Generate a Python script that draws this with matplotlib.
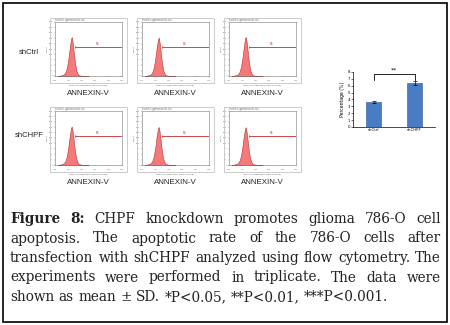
import matplotlib
matplotlib.use("Agg")
import matplotlib.pyplot as plt
from matplotlib.patches import Rectangle

W, H = 450, 325

# ---------------- data ----------------
row_labels = ["shCtrl", "shCHPF"]
hist_xlabel = "ANNEXIN-V"
# log10 fluorescence positions of the histogram outline
log_fl = [0.2, 0.4, 0.6, 0.7, 0.8, 0.9, 1.0, 1.1, 1.2, 1.25, 1.3, 1.4, 1.5, 1.6, 1.7, 1.8, 2.0, 2.5]
# counts for each replicate (3 per group)
counts_shctrl = [
    [0, 2, 5, 10, 20, 42, 80, 130, 172, 180, 165, 110, 58, 24, 9, 3, 1, 0],
    [0, 2, 5, 11, 22, 45, 84, 134, 170, 178, 162, 108, 56, 23, 9, 3, 1, 0],
    [0, 2, 5, 10, 21, 44, 82, 132, 174, 181, 166, 112, 57, 24, 9, 3, 1, 0],
]
counts_shchpf = [
    [0, 2, 6, 11, 22, 46, 85, 135, 172, 178, 164, 112, 60, 26, 10, 4, 1, 0],
    [0, 2, 6, 12, 23, 47, 86, 136, 170, 176, 160, 110, 58, 25, 10, 4, 1, 0],
    [0, 2, 6, 11, 22, 45, 84, 133, 168, 175, 160, 108, 57, 25, 10, 4, 1, 0],
]
marker_range = [1.5, 5.0]
marker_level = 135
marker_name = "M1"

bar_categories = ["shCtrl", "shCHPF"]
bar_values = [3.65, 6.35]
bar_sd = [0.1, 0.3]
sig_label = "**"

caption_lines = [
    [("Figure", True), ("8:", True), ("CHPF", False), ("knockdown", False), ("promotes", False),
     ("glioma", False), ("786-O", False), ("cell", False)],
    "apoptosis. The apoptotic rate of the 786-O cells after",
    "transfection with shCHPF analyzed using flow cytometry. The",
    "experiments were performed in triplicate. The data were",
    "shown as mean ± SD. *P<0.05, **P<0.01, ***P<0.001.",
]

# ---------------- figure ----------------
fig = plt.figure(figsize=(W / 100, H / 100), dpi=100)
fig.patch.set_facecolor("white")


def px_axes(l, t, r, b):
    return fig.add_axes([l / W, 1 - b / H, (r - l) / W, (b - t) / H])


def fx(x):
    return x / W


def fy(y):
    return 1 - y / H


# outer border
fig.patches.append(Rectangle((fx(3), fy(322)), (444) / W, (319) / H, transform=fig.transFigure,
                             fill=False, edgecolor="black", lw=1.2))

sans = ["Liberation Sans Narrow", "Liberation Sans", "DejaVu Sans"]

col_lefts = [50, 137, 224]
row_tops = [18, 107]
pw, ph = 77, 65

for ri, (row_counts, label) in enumerate(zip([counts_shctrl, counts_shchpf], row_labels)):
    t = row_tops[ri]
    fig.text(fx(29), fy(t + 34 if ri == 0 else t + 28), label, ha="center", va="center",
             fontsize=5.5, family=["Liberation Sans", "DejaVu Sans"], color="#222222")
    for ci, counts in enumerate(row_counts):
        l = col_lefts[ci]
        fig.patches.append(Rectangle((fx(l), fy(t + ph)), pw / W, ph / H, transform=fig.transFigure,
                                     fill=False, edgecolor="#c4c4c4", lw=0.6))
        ax = px_axes(l + 5, t + 4, l + pw - 5, t + ph - 7)
        ax.fill_between(log_fl, counts, 0, facecolor="#F47A7A", edgecolor="#B83030", lw=0.4)
        ax.plot(marker_range, [marker_level] * 2, color="#D04848", lw=0.7)
        for mx in marker_range:
            ax.plot([mx, mx], [marker_level - 6, marker_level + 6], color="#D04848", lw=0.5)
        ax.text(sum(marker_range) / 2 - 0.1, marker_level + 2, marker_name, fontsize=1.8,
                color="#C03030", ha="center", va="bottom")
        ax.set_xlim(0, 5)
        ax.set_ylim(0, 250)
        ax.set_xticks(range(6))
        ax.set_xticklabels([f"$10^{{{i}}}$" for i in range(6)])
        ax.set_yticks(range(0, 251, 25))
        ax.set_yticklabels([str(v) for v in range(0, 251, 25)])
        ax.tick_params(length=1, width=0.3, labelsize=1.5, pad=0.5, colors="#666666")
        for s in ax.spines.values():
            s.set_linewidth(0.4)
            s.set_color("#777777")
        ax.set_xlabel("Red-4 Fluorescence (RED-R-HLog)", fontsize=1.6, labelpad=0.5, color="#555555")
        ax.set_ylabel("Count", fontsize=1.6, labelpad=0.5, color="#555555")
        ax.set_title("Plot R3, gated on R1.R2", fontsize=1.8, loc="left", pad=0.6, color="#555555")
        fig.text(fx(l + pw / 2), fy(t + 76), hist_xlabel, ha="center", va="center",
                 fontsize=5.7, family=sans, color="#222222")

# ---------------- bar chart ----------------
bx = px_axes(353, 72, 435, 127)
pos = list(range(len(bar_categories)))
bx.bar(pos, bar_values, width=0.39, color="#4A7CC4", edgecolor="#2F5597", lw=0.4,
       yerr=bar_sd, error_kw=dict(ecolor="black", elinewidth=0.5, capsize=1.2, capthick=0.5))
bx.set_xlim(-0.5, 1.5)
bx.set_ylim(0, 8)
bx.set_yticks(range(9))
bx.set_xticks(pos)
bx.set_xticklabels(bar_categories)
bx.tick_params(length=1.2, width=0.4, labelsize=2.8, pad=1)
bx.tick_params(axis="x", length=0)
for s in ["top", "right"]:
    bx.spines[s].set_visible(False)
for s in ["left", "bottom"]:
    bx.spines[s].set_linewidth(0.5)
bx.set_ylabel("Percentage (%)", fontsize=3.3, labelpad=1.5)
bx.plot([0, 0, 1, 1], [6.8, 7.7, 7.7, 6.8], color="black", lw=0.6, clip_on=False)
bx.text(0.5, 7.85, sig_label, ha="center", va="bottom", fontsize=4.5, clip_on=False)

# ---------------- caption (justified) ----------------
renderer = fig.canvas.get_renderer()
cap_font = ["DejaVu Serif"]
cap_color = "#222222"
x0, x1 = 10, 441
baselines = [223, 242.5, 262, 281.5, 301]


def measure(word, bold, size):
    t = fig.text(0, 0, word, fontsize=size, family=cap_font,
                 weight="bold" if bold else "normal")
    w = t.get_window_extent(renderer).width
    t.remove()
    return w


def split(line):
    return line if isinstance(line, list) else [(w, False) for w in line.split(" ")]


# pick the font size so the widest line just fits the column with ordinary spaces
cap_size = 10.0
for _ in range(30):
    sp = measure("a b", False, cap_size) - measure("ab", False, cap_size)
    widest = max(sum(measure(w, b, cap_size) for w, b in split(ln)) + sp * (len(split(ln)) - 1)
                 for ln in caption_lines)
    if widest <= (x1 - x0) - 2:
        break
    cap_size -= 0.1

space_w = measure("a b", False, cap_size) - measure("ab", False, cap_size)

for li, line in enumerate(caption_lines):
    words = split(line)
    widths = [measure(w, b, cap_size) for w, b in words]
    if li < len(caption_lines) - 1:
        gap = (x1 - x0 - sum(widths)) / (len(words) - 1)
    else:
        gap = space_w
    x = x0
    for (w, b), wd in zip(words, widths):
        fig.text(fx(x), fy(baselines[li]), w, fontsize=cap_size, family=cap_font,
                 weight="bold" if b else "normal", color=cap_color, va="baseline", ha="left")
        x += wd + gap

fig.savefig("out.png", dpi=100)
